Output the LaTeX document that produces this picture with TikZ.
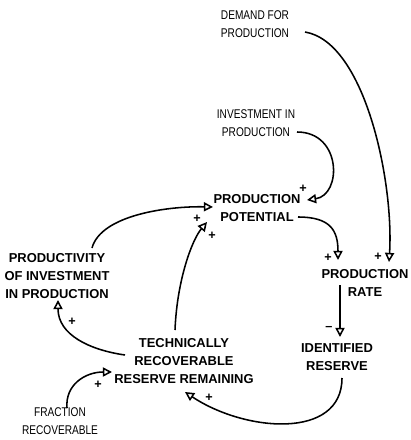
\documentclass[tikz,border=0pt]{standalone}
\usepackage{fontspec}
\setmainfont{Liberation Sans}
\newfontfamily\narrowfont[FakeStretch=0.8]{Liberation Sans}
\usetikzlibrary{arrows.meta, calc}

\begin{document}
\begin{tikzpicture}[x = 0.025cm, y = -0.025cm,
  var/.style = {font = \bfseries\fontsize{9.2}{12.5}\selectfont, align = center, inner sep = 1pt},
  ext/.style = {font = \narrowfont\fontsize{9}{12.5}\selectfont, align = center, inner sep = 1pt},
  link/.style = {line width = 1.1pt, -{Triangle[open, length = 6.5pt, width = 6.5pt]}},
  sign/.style = {font = \bfseries\small, inner sep = 0pt}]
\useasboundingbox (0,0) rectangle (410,440);
\node[ext] (demand) at (255,24) {DEMAND FOR\\PRODUCTION};
\node[ext] (invest) at (256,123) {INVESTMENT IN\\PRODUCTION};
\node[var] (potential) at (257,208) {PRODUCTION\\POTENTIAL};
\node[var] (productivity) at (57,276) {PRODUCTIVITY\\OF INVESTMENT\\IN PRODUCTION};
\node[var] (rate) at (365,283) {PRODUCTION\\RATE};
\node[var] (identified) at (337,357) {IDENTIFIED\\RESERVE};
\node[var] (trr) at (184,361) {TECHNICALLY\\RECOVERABLE\\RESERVE REMAINING};
\node[ext] (fraction) at (60,421) {FRACTION\\RECOVERABLE};
\draw[link] ($(demand)+(50,8)$) .. controls +(60,10) and +(5,-80) .. ($(rate)+(24,-21)$);
\draw[link] ($(invest)+(41,9)$) .. controls +(45,0) and +(35,-5) .. ($(potential)+(50,-8)$);
\draw[link] ($(potential)+(41,9)$) .. controls +(32,0) and +(0,-30) .. ($(rate)+(-27,-23)$);
\draw[link] ($(rate)+(-25,2)$) -- ($(identified)+(3,-20)$);
\draw[link] ($(identified)+(5,21)$) .. controls +(0,62) and +(60,40) .. ($(trr)+(1,31)$);
\draw[link] ($(trr)+(-59,-6)$) .. controls +(-35,-5) and +(0,35) .. ($(productivity)+(1,24)$);
\draw[link] ($(trr)+(-9,-31)$) .. controls +(2,-50) and +(-15,18) .. ($(potential)+(-50,14)$);
\draw[link] ($(productivity)+(35,-28)$) .. controls +(9,-33) and +(-45,-1) .. ($(potential)+(-44,-1)$);
\draw[link] ($(fraction)+(7,-13)$) .. controls +(-2,-23) and +(-27,0) .. ($(trr)+(-72,11)$);
\node[sign] (s1) at (303,189) {+};
\node[sign] (s2) at (197,219) {+};
\node[sign] (s3) at (212,236) {+};
\node[sign] (s4) at (328,258) {+};
\node[sign] (s5) at (378,257) {+};
\node[sign] (s6) at (329,328) {--};
\node[sign] (s7) at (209,398) {+};
\node[sign] (s8) at (72,322) {+};
\node[sign] (s9) at (98,385) {+};
\end{tikzpicture}
\end{document}
